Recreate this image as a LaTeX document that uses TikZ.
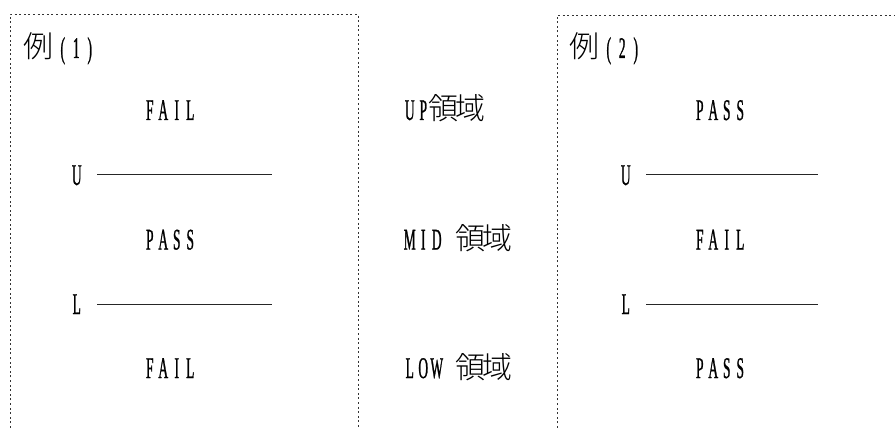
\documentclass[tikz,border=0pt]{standalone}
\usepackage{fontspec}
\newfontfamily\latn{Liberation Serif}[FakeStretch=0.45, FakeBold=0.8]
\IfFontExistsTF{Noto Sans CJK JP Light}{\newfontfamily\cjk{Noto Sans CJK JP Light}}{\newfontfamily\cjk{Noto Sans CJK JP}}
\makeatletter
\newcommand\cells[1]{\@tfor\c@h:=#1\do{\makebox[13.5pt][c]{\c@h}}}
\makeatother
\newcommand\wide[1]{\makebox[27pt][c]{\cjk #1}}
\tikzset{
  txt/.style={inner sep=0pt, outer sep=0pt, anchor=base west,
    font=\latn\fontsize{30}{30}\selectfont},
  frame/.style={draw=black!80, line width=0.7pt, dash pattern=on 2pt off 2.6pt},
  limit/.style={draw=black!85, line width=0.8pt},
}
\begin{document}
\begin{tikzpicture}[x=1pt, y=-1pt]
\useasboundingbox (0,0) rectangle (895,428);
% frames
\coordinate (a1) at (10,428);
\coordinate (a2) at (10,14);
\coordinate (a3) at (358,14);
\coordinate (a4) at (358,428);
\draw[frame] (a1) -- (a2) -- (a3) -- (a4);
\coordinate (b1) at (557,428);
\coordinate (b2) at (557,15);
\coordinate (b3) at (895,15);
\draw[frame] (b1) -- (b2) -- (b3);
% example 1
\node[txt] (ex1) at (25,58) {\wide{例}\hspace{4pt}\cells{(1)}};
\node[txt] (f1) at (143,120) {\cells{FAIL}};
\node[txt] (u1) at (70,185) {\cells{U}};
\node[txt] (p1) at (143,249.5) {\cells{PASS}};
\node[txt] (l1) at (70,314) {\cells{L}};
\node[txt] (f2) at (143,378) {\cells{FAIL}};
\coordinate (u1s) at (97,174.5);
\coordinate (u1e) at (272,174.5);
\coordinate (l1s) at (97,304);
\coordinate (l1e) at (272,304);
\draw[limit] (u1s) -- (u1e);
\draw[limit] (l1s) -- (l1e);
% middle labels
\node[txt] (up) at (403,120) {\cells{UP}\wide{領}\wide{域}};
\node[txt] (mid) at (403,249.5) {\cells{MID}\makebox[13.5pt]{}\wide{領}\wide{域}};
\node[txt] (low) at (403,378) {\cells{LOW}\makebox[13.5pt]{}\wide{領}\wide{域}};
% example 2
\node[txt] (ex2) at (571,58) {\wide{例}\hspace{4pt}\cells{(2)}};
\node[txt] (p2) at (693,120) {\cells{PASS}};
\node[txt] (u2) at (619,185) {\cells{U}};
\node[txt] (f3) at (693,249.5) {\cells{FAIL}};
\node[txt] (l2) at (619,314) {\cells{L}};
\node[txt] (p3) at (693,378) {\cells{PASS}};
\coordinate (u2s) at (646,174.5);
\coordinate (u2e) at (818,174.5);
\coordinate (l2s) at (646,304);
\coordinate (l2e) at (818,304);
\draw[limit] (u2s) -- (u2e);
\draw[limit] (l2s) -- (l2e);
\end{tikzpicture}
\end{document}
